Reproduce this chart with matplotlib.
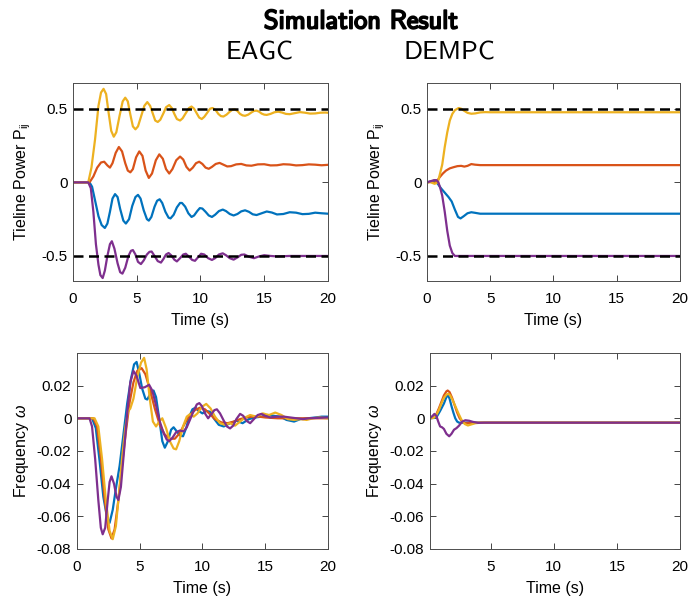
import matplotlib
matplotlib.use("Agg")
import matplotlib.pyplot as plt
import matplotlib.patheffects as pe

##### Data #####
# EAGC tieline power
eagc_p_blue_t = [0, 1.3, 1.5, 1.75, 2.0, 2.25, 2.5, 2.7, 2.9, 3.1, 3.3, 3.5, 3.7, 3.95, 4.15, 4.4, 4.65, 4.9, 5.1, 5.3, 5.55, 5.8, 5.95, 6.15, 6.4, 6.6, 6.8, 7.0, 7.25, 7.5, 7.65, 7.9, 8.15, 8.4, 8.55, 8.8, 9.05, 9.3, 9.5, 9.75, 9.95, 10.15, 10.4, 10.65, 10.9, 11.15, 11.45, 11.75, 12.0, 12.3, 12.6, 12.9, 13.2, 13.5, 13.8, 14.1, 14.4, 14.8, 15.2, 15.6, 16.0, 16.5, 17.0, 17.5, 18.0, 18.5, 19.0, 19.5, 20]
eagc_p_blue_v = [0, 0, -0.03, -0.13, -0.23, -0.29, -0.31, -0.28, -0.2, -0.11, -0.08, -0.1, -0.18, -0.26, -0.28, -0.25, -0.16, -0.1, -0.085, -0.11, -0.19, -0.25, -0.26, -0.235, -0.165, -0.125, -0.115, -0.14, -0.2, -0.24, -0.245, -0.22, -0.17, -0.14, -0.14, -0.165, -0.21, -0.235, -0.225, -0.195, -0.175, -0.178, -0.2, -0.225, -0.235, -0.22, -0.195, -0.185, -0.195, -0.215, -0.225, -0.215, -0.197, -0.19, -0.2, -0.217, -0.222, -0.21, -0.198, -0.205, -0.218, -0.215, -0.203, -0.206, -0.216, -0.214, -0.206, -0.21, -0.213]

eagc_p_orange_t = [0, 1.3, 1.6, 1.9, 2.2, 2.45, 2.7, 2.9, 3.1, 3.35, 3.6, 3.85, 4.1, 4.3, 4.5, 4.7, 4.95, 5.2, 5.45, 5.7, 5.95, 6.2, 6.5, 6.77, 7.05, 7.3, 7.55, 7.8, 8.1, 8.4, 8.65, 8.9, 9.15, 9.4, 9.65, 9.9, 10.15, 10.4, 10.65, 10.9, 11.2, 11.5, 11.8, 12.1, 12.4, 12.8, 13.2, 13.6, 14.0, 14.5, 15.0, 15.5, 16.0, 16.5, 17.0, 17.5, 18.0, 18.5, 19.0, 19.5, 20]
eagc_p_orange_v = [0, 0, 0.04, 0.1, 0.135, 0.14, 0.115, 0.1, 0.13, 0.2, 0.24, 0.21, 0.13, 0.08, 0.068, 0.09, 0.17, 0.21, 0.18, 0.08, 0.03, 0.06, 0.15, 0.19, 0.16, 0.09, 0.06, 0.09, 0.15, 0.175, 0.155, 0.105, 0.08, 0.1, 0.13, 0.14, 0.125, 0.1, 0.092, 0.105, 0.125, 0.132, 0.12, 0.108, 0.11, 0.122, 0.125, 0.115, 0.113, 0.122, 0.123, 0.115, 0.116, 0.123, 0.121, 0.115, 0.117, 0.122, 0.12, 0.116, 0.119]

eagc_p_yellow_t = [0, 1.2, 1.45, 1.73, 2.0, 2.2, 2.4, 2.6, 2.8, 3.0, 3.2, 3.4, 3.65, 3.9, 4.1, 4.3, 4.5, 4.7, 4.9, 5.1, 5.35, 5.6, 5.83, 6.05, 6.25, 6.45, 6.65, 6.85, 7.1, 7.3, 7.55, 7.75, 7.95, 8.15, 8.4, 8.6, 8.85, 9.1, 9.3, 9.5, 9.7, 9.9, 10.1, 10.3, 10.55, 10.75, 10.95, 11.2, 11.4, 11.6, 11.8, 12.05, 12.3, 12.5, 12.7, 12.9, 13.1, 13.3, 13.5, 13.75, 14.0, 14.2, 14.4, 14.6, 14.8, 15.0, 15.2, 15.5, 15.8, 16.1, 16.4, 16.7, 17.0, 17.4, 17.8, 18.2, 18.6, 19.0, 19.4, 19.8, 20]
eagc_p_yellow_v = [0, 0, 0.1, 0.29, 0.52, 0.61, 0.635, 0.6, 0.47, 0.35, 0.31, 0.34, 0.45, 0.55, 0.575, 0.55, 0.46, 0.38, 0.36, 0.38, 0.45, 0.52, 0.545, 0.52, 0.47, 0.42, 0.41, 0.425, 0.47, 0.51, 0.525, 0.505, 0.465, 0.43, 0.42, 0.435, 0.47, 0.505, 0.515, 0.5, 0.47, 0.44, 0.43, 0.445, 0.475, 0.5, 0.505, 0.49, 0.465, 0.45, 0.447, 0.46, 0.48, 0.493, 0.495, 0.485, 0.465, 0.455, 0.452, 0.46, 0.475, 0.485, 0.487, 0.48, 0.467, 0.46, 0.458, 0.465, 0.476, 0.48, 0.474, 0.465, 0.463, 0.47, 0.477, 0.473, 0.467, 0.468, 0.473, 0.474, 0.473]

eagc_p_purple_t = [0, 1.2, 1.4, 1.6, 1.8, 2.0, 2.15, 2.33, 2.5, 2.7, 2.9, 3.05, 3.25, 3.5, 3.7, 3.88, 4.1, 4.35, 4.55, 4.7, 4.9, 5.1, 5.33, 5.55, 5.8, 6.0, 6.17, 6.4, 6.65, 6.9, 7.1, 7.3, 7.5, 7.7, 7.95, 8.15, 8.4, 8.65, 8.85, 9.1, 9.35, 9.57, 9.8, 10.05, 10.3, 10.6, 10.9, 11.15, 11.45, 11.75, 12.0, 12.3, 12.6, 12.9, 13.2, 13.45, 13.8, 14.2, 14.6, 15.0, 15.5, 16.0, 17.0, 18.0, 20]
eagc_p_purple_v = [0, 0, -0.04, -0.2, -0.42, -0.56, -0.63, -0.65, -0.6, -0.5, -0.42, -0.4, -0.45, -0.55, -0.61, -0.62, -0.58, -0.5, -0.465, -0.46, -0.49, -0.54, -0.555, -0.53, -0.49, -0.472, -0.47, -0.5, -0.535, -0.545, -0.52, -0.49, -0.48, -0.495, -0.525, -0.537, -0.515, -0.49, -0.485, -0.505, -0.527, -0.533, -0.51, -0.485, -0.49, -0.515, -0.527, -0.515, -0.49, -0.482, -0.495, -0.515, -0.525, -0.51, -0.492, -0.49, -0.505, -0.515, -0.503, -0.495, -0.5, -0.503, -0.5, -0.5, -0.5]

# DEMPC tieline power
dempc_p_blue_t = [0, 0.3, 0.6, 0.85, 1.1, 1.4, 1.7, 1.95, 2.2, 2.45, 2.65, 2.9, 3.2, 3.5, 3.8, 4.2, 5, 20]
dempc_p_blue_v = [0, 0.005, 0.01, -0.01, -0.04, -0.07, -0.1, -0.13, -0.185, -0.235, -0.245, -0.23, -0.21, -0.203, -0.207, -0.213, -0.213, -0.213]
dempc_p_orange_t = [0, 0.3, 0.6, 0.8, 1.0, 1.25, 1.5, 1.8, 2.1, 2.4, 2.7, 2.95, 3.2, 3.5, 3.8, 4.2, 5, 20]
dempc_p_orange_v = [0, 0.005, -0.005, 0.01, 0.035, 0.06, 0.08, 0.095, 0.103, 0.11, 0.112, 0.107, 0.112, 0.124, 0.12, 0.117, 0.117, 0.117]
dempc_p_yellow_t = [0, 0.3, 0.6, 0.85, 1.0, 1.2, 1.4, 1.6, 1.8, 2.0, 2.2, 2.5, 2.7, 2.9, 3.2, 3.5, 3.8, 4.2, 4.6, 5, 20]
dempc_p_yellow_v = [0, 0.0, -0.01, 0.0, 0.05, 0.12, 0.24, 0.34, 0.42, 0.465, 0.49, 0.505, 0.5, 0.488, 0.472, 0.466, 0.468, 0.475, 0.477, 0.476, 0.476]
dempc_p_purple_t = [0, 0.3, 0.55, 0.75, 0.9, 1.05, 1.2, 1.4, 1.6, 1.8, 2.0, 2.2, 20]
dempc_p_purple_v = [0, 0.008, 0.015, 0.015, 0.0, -0.04, -0.09, -0.2, -0.33, -0.43, -0.48, -0.5, -0.5]

# EAGC frequency
eagc_w_blue_t = [0, 1.2, 1.5, 1.8, 2.1, 2.4, 2.6, 2.85, 3.1, 3.4, 3.7, 4.0, 4.3, 4.55, 4.75, 4.95, 5.2, 5.45, 5.6, 5.85, 6.1, 6.3, 6.55, 6.8, 7.0, 7.25, 7.5, 7.7, 7.95, 8.2, 8.45, 8.7, 8.95, 9.2, 9.45, 9.7, 10.0, 10.3, 10.6, 10.9, 11.3, 11.7, 12.2, 12.7, 13.2, 13.7, 14.2, 14.7, 15.2, 15.7, 16.2, 16.7, 17.3, 17.8, 18.4, 19.0, 19.5, 20]
eagc_w_blue_v = [0, 0, -0.006, -0.026, -0.048, -0.061, -0.064, -0.056, -0.043, -0.029, -0.01, 0.009, 0.024, 0.033, 0.0345, 0.028, 0.018, 0.012, 0.0115, 0.015, 0.017, 0.013, 0.0, -0.014, -0.018, -0.014, -0.007, -0.0055, -0.008, -0.0105, -0.011, -0.006, 0.001, 0.0055, 0.0065, 0.0045, 0.003, 0.0045, 0.004, 0.0, -0.004, -0.005, -0.003, -0.0015, -0.003, -0.0005, 0.0005, 0.001, 0.002, 0.0015, 0.001, -0.001, -0.002, -0.0005, 0.0, 0.0005, 0.001, 0.001]

eagc_w_orange_t = [0, 1.3, 1.6, 1.9, 2.2, 2.5, 2.75, 3.0, 3.3, 3.6, 3.9, 4.2, 4.5, 4.8, 5.15, 5.45, 5.8, 6.2, 6.6, 7.0, 7.4, 7.8, 8.2, 8.6, 9.0, 9.4, 9.8, 10.2, 10.6, 11.0, 11.5, 12.0, 12.5, 13.0, 13.5, 14.0, 14.5, 15.0, 16.0, 17.0, 18.0, 20]
eagc_w_orange_v = [0, 0, -0.005, -0.024, -0.049, -0.068, -0.0735, -0.068, -0.05, -0.028, -0.008, 0.01, 0.022, 0.029, 0.0307, 0.027, 0.018, 0.006, -0.004, -0.01, -0.0125, -0.0125, -0.009, -0.003, 0.002, 0.005, 0.0065, 0.0055, 0.0025, -0.0005, -0.0025, -0.003, -0.002, -0.0005, 0.0005, 0.001, 0.001, 0.0005, 0.0, 0.0, 0.0, 0.0]

eagc_w_yellow_t = [0, 1.4, 1.7, 2.0, 2.3, 2.6, 2.85, 3.1, 3.35, 3.6, 3.85, 4.05, 4.25, 4.5, 4.8, 5.1, 5.35, 5.55, 5.8, 6.05, 6.3, 6.55, 6.8, 7.1, 7.4, 7.7, 7.9, 8.15, 8.45, 8.75, 9.0, 9.3, 9.6, 9.95, 10.3, 10.65, 11.0, 11.4, 11.8, 12.2, 12.6, 13.0, 13.4, 13.8, 14.3, 14.8, 15.3, 15.8, 16.3, 16.8, 17.3, 17.8, 18.3, 18.8, 19.3, 20]
eagc_w_yellow_v = [0, 0, -0.005, -0.025, -0.05, -0.069, -0.074, -0.066, -0.046, -0.024, -0.006, 0.004, 0.006, 0.012, 0.025, 0.034, 0.037, 0.03, 0.012, -0.002, -0.005, -0.002, 0.0, -0.006, -0.014, -0.0185, -0.019, -0.014, -0.005, 0.001, 0.0025, 0.001, 0.003, 0.007, 0.0088, 0.006, 0.001, -0.003, -0.004, -0.003, -0.0045, -0.002, 0.0005, 0.002, 0.001, 0.003, 0.002, 0.0035, 0.002, -0.0005, -0.001, -0.0005, -0.001, 0.0, 0.0005, 0.0]

eagc_w_purple_t = [0, 1.0, 1.2, 1.45, 1.7, 1.9, 2.05, 2.25, 2.45, 2.6, 2.75, 2.95, 3.15, 3.3, 3.5, 3.75, 4.0, 4.25, 4.5, 4.75, 5.05, 5.4, 5.75, 6.0, 6.3, 6.6, 6.9, 7.15, 7.35, 7.6, 7.9, 8.2, 8.5, 8.75, 9.0, 9.3, 9.55, 9.75, 9.95, 10.2, 10.45, 10.7, 10.95, 11.15, 11.4, 11.7, 11.95, 12.2, 12.45, 12.7, 13.0, 13.25, 13.5, 13.8, 14.1, 14.4, 14.7, 15.0, 15.4, 15.9, 16.5, 17.0, 17.5, 18.0, 18.5, 19.0, 20]
eagc_w_purple_v = [0, 0, -0.005, -0.025, -0.05, -0.067, -0.071, -0.067, -0.05, -0.039, -0.0355, -0.04, -0.048, -0.05, -0.042, -0.02, 0.003, 0.022, 0.029, 0.026, 0.0185, 0.019, 0.0205, 0.017, 0.008, -0.002, -0.009, -0.013, -0.014, -0.012, -0.0085, -0.0075, -0.008, -0.0055, -0.001, 0.0045, 0.0085, 0.0093, 0.0075, 0.003, 0.0, 0.0025, 0.005, 0.0055, 0.003, -0.0015, -0.005, -0.0062, -0.0045, -0.0005, 0.0027, 0.0015, -0.0015, -0.003, -0.0005, 0.002, 0.0027, 0.0015, 0.0005, 0.001, 0.001, 0.0005, 0.0, -0.0005, 0.0, 0.0002, 0.0005]

# DEMPC frequency
dempc_w_blue_t = [0.2, 0.5, 0.7, 1.0, 1.3, 1.5, 1.63, 1.75, 1.9, 2.05, 2.2, 2.35, 2.5, 3, 20]
dempc_w_blue_v = [0, 0.0002, 0.0005, 0.0045, 0.009, 0.013, 0.014, 0.012, 0.0075, 0.0035, 0.0, -0.002, -0.0027, -0.0027, -0.0027]
dempc_w_orange_t = [0.2, 0.5, 0.7, 0.9, 1.1, 1.3, 1.5, 1.6, 1.75, 1.95, 2.15, 2.35, 2.55, 2.75, 2.95, 3.2, 3.5, 4, 20]
dempc_w_orange_v = [0, 0.0005, 0.0025, 0.006, 0.01, 0.014, 0.0165, 0.017, 0.016, 0.0125, 0.008, 0.0035, 0.0, -0.002, -0.003, -0.003, -0.0028, -0.0027, -0.0027]
dempc_w_yellow_t = [0.2, 0.5, 0.7, 0.9, 1.1, 1.3, 1.5, 1.65, 1.8, 2.0, 2.2, 2.45, 2.7, 2.95, 3.2, 3.45, 3.8, 4.2, 20]
dempc_w_yellow_v = [0, 0.0003, 0.002, 0.005, 0.009, 0.0125, 0.0145, 0.015, 0.014, 0.011, 0.0075, 0.003, -0.001, -0.0035, -0.0044, -0.0038, -0.003, -0.0027, -0.0027]
dempc_w_purple_t = [0.2, 0.4, 0.55, 0.7, 0.85, 1.0, 1.15, 1.3, 1.5, 1.72, 1.9, 2.1, 2.3, 2.5, 2.75, 3.0, 3.3, 3.6, 4.0, 4.5, 20]
dempc_w_purple_v = [0, 0.0015, 0.0027, 0.0015, -0.002, -0.005, -0.0055, -0.0065, -0.0095, -0.011, -0.0095, -0.007, -0.006, -0.0045, -0.002, -0.0012, -0.0015, -0.0022, -0.0028, -0.0027, -0.0027]

ref_lines = [0.5, -0.5]
p_ticks = [-0.5, 0, 0.5]
p_ticklabels = ["-0.5", "0", "0.5"]
w_ticks = [-0.08, -0.06, -0.04, -0.02, 0, 0.02]
w_ticklabels = ["-0.08", "-0.06", "-0.04", "-0.02", "0", "0.02"]
colors = ["#0072BD", "#D95319", "#EDB120", "#7E2F8E"]

##### Figure #####
plt.rcParams['font.family'] = ['Liberation Sans', 'DejaVu Sans']
plt.rcParams['axes.unicode_minus'] = False
plt.rcParams['mathtext.fontset'] = 'custom'
plt.rcParams['mathtext.it'] = 'Liberation Sans:italic'
plt.rcParams['mathtext.rm'] = 'Liberation Sans'

fig = plt.figure(figsize=(6.91, 5.99), dpi=100)
ax_tl = fig.add_axes([0.1056, 0.5309, 0.369, 0.3306])
ax_tr = fig.add_axes([0.618, 0.5309, 0.366, 0.3306])
ax_bl = fig.add_axes([0.1114, 0.0835, 0.3632, 0.327])
ax_br = fig.add_axes([0.6223, 0.0835, 0.3618, 0.327])

series = {
    ax_tl: [(eagc_p_blue_t, eagc_p_blue_v), (eagc_p_orange_t, eagc_p_orange_v), (eagc_p_yellow_t, eagc_p_yellow_v), (eagc_p_purple_t, eagc_p_purple_v)],
    ax_tr: [(dempc_p_blue_t, dempc_p_blue_v), (dempc_p_orange_t, dempc_p_orange_v), (dempc_p_yellow_t, dempc_p_yellow_v), (dempc_p_purple_t, dempc_p_purple_v)],
    ax_bl: [(eagc_w_blue_t, eagc_w_blue_v), (eagc_w_orange_t, eagc_w_orange_v), (eagc_w_yellow_t, eagc_w_yellow_v), (eagc_w_purple_t, eagc_w_purple_v)],
    ax_br: [(dempc_w_blue_t, dempc_w_blue_v), (dempc_w_orange_t, dempc_w_orange_v), (dempc_w_yellow_t, dempc_w_yellow_v), (dempc_w_purple_t, dempc_w_purple_v)],
}

for ax, curves in series.items():
    for (t, v), c in zip(curves, colors):
        ax.plot(t, v, color=c, lw=1.6, solid_joinstyle='round')
    ax.tick_params(direction='in', top=True, right=True, labelsize=11, length=4, width=0.6, color='#262626', pad=4)
    ax.tick_params(axis='x', pad=8)
    for sp in ax.spines.values():
        sp.set_color('#4d4d4d')
        sp.set_linewidth(0.7)
    ax.set_xlabel("Time (s)", fontsize=11.5, labelpad=5)

# tieline plots with reference lines
for ax in [ax_tl, ax_tr]:
    for r in ref_lines:
        ax.axhline(r, color='black', lw=1.8, linestyle=(0, (4, 2.2)))
    ax.set_xlim(0, 20)
    ax.set_ylim(-0.67, 0.675)
    ax.set_xticks([0, 5, 10, 15, 20])
    ax.set_yticks(p_ticks)
    ax.set_yticklabels(p_ticklabels)
    ax.set_ylabel(r"Tieline Power P$_{\mathregular{ij}}$", fontsize=11.5, labelpad=6)

# frequency plots
for ax in [ax_bl, ax_br]:
    ax.set_ylim(-0.08, 0.0399)
    ax.set_yticks(w_ticks)
    ax.set_yticklabels(w_ticklabels)
    ax.set_ylabel(r"Frequency $\omega$", fontsize=11.5, labelpad=4)
ax_bl.set_xlim(0, 20)
ax_bl.set_xticks([0, 5, 10, 15, 20])
ax_br.set_xlim(0.2, 20)
ax_br.set_xticks([5, 10, 15, 20])

# titles (LaTeX sans look)
bold = [pe.withStroke(linewidth=1.3, foreground='black')]
fig.text(361 / 691, 1 - 22 / 599, "Simulation Result", ha='center', va='center', fontsize=19,
         family=['cmss10', 'DejaVu Sans'], path_effects=bold)
fig.text(260 / 691, 1 - 53 / 599, "EAGC", ha='center', va='center', fontsize=19, family=['cmss10', 'DejaVu Sans'])
fig.text(449 / 691, 1 - 53 / 599, "DEMPC", ha='center', va='center', fontsize=19, family=['cmss10', 'DejaVu Sans'])

fig.savefig("out.png", dpi=100)
